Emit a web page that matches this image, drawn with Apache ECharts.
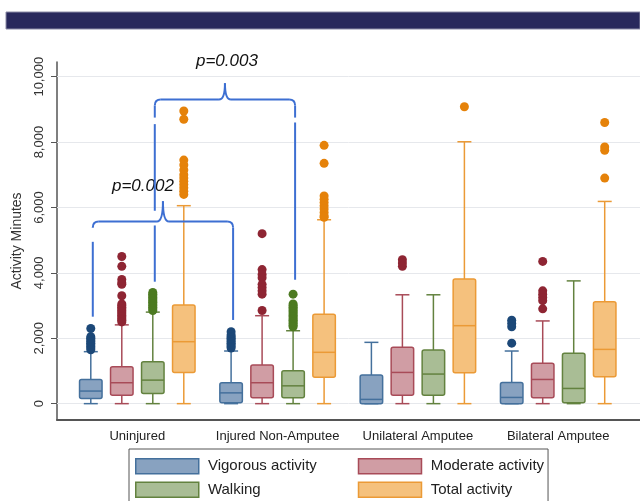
<!doctype html>
<html>
    <head>
        <meta charset="utf-8">
        <title>Activity minutes by injury group</title>
        <style>
            html, body { margin: 0; padding: 0; background: #fff; }
            #main { width: 640px; height: 501px; }
        </style>
    </head>
    <body>
        <div id="main"></div>
        <script src="https://cdn.jsdelivr.net/npm/echarts@6/dist/echarts.min.js"></script>
        <script>
            var groups = ['Uninjured', 'Injured Non-Amputee', 'Unilateral Amputee', 'Bilateral Amputee'];
            var activities = ['Vigorous activity', 'Moderate activity', 'Walking', 'Total activity'];
            var yTicks = [0, 2000, 4000, 6000, 8000, 10000];

            // [lower whisker, Q1, median, Q3, upper whisker], one row per group
            var vigorousBox = [[0, 160, 385, 740, 1590], [0, 25, 330, 640, 1610], [0, 0, 130, 875, 1875], [0, 0, 190, 650, 1610]];
            var moderateBox = [[0, 260, 640, 1130, 2410], [0, 180, 640, 1180, 2690], [0, 260, 955, 1725, 3330], [0, 180, 740, 1235, 2530]];
            var walkingBox = [[0, 310, 720, 1280, 2800], [0, 180, 545, 1005, 2230], [0, 260, 905, 1640, 3330], [0, 30, 465, 1540, 3755]];
            var totalBox = [[0, 955, 1895, 3020, 6055], [0, 805, 1570, 2735, 5625], [0, 945, 2385, 3810, 8010], [0, 820, 1660, 3120, 6185]];

            // outside values, one list per group
            var vigorousOut = [
                [2300, 2050, 2000, 1950, 1900, 1850, 1800, 1750, 1700, 1650],
                [2200, 2100, 2050, 2000, 1950, 1900, 1850, 1800, 1750, 1700],
                [],
                [2550, 2450, 2350, 1850]
            ];
            var moderateOut = [
                [4500, 4200, 3800, 3700, 3650, 3300, 3050, 3000, 2950, 2900, 2850, 2800, 2750, 2700, 2650, 2600, 2550, 2500],
                [5200, 4100, 3950, 3850, 3650, 3550, 3450, 3350, 2850],
                [4400, 4300, 4200],
                [4350, 3450, 3350, 3250, 3150, 2900]
            ];
            var walkingOut = [
                [3400, 3350, 3300, 3250, 3200, 3150, 3100, 3050, 3000, 2950, 2900, 2850],
                [3350, 3050, 3000, 2950, 2900, 2850, 2800, 2750, 2700, 2650, 2600, 2550, 2500, 2450, 2400, 2350],
                [],
                []
            ];
            var totalOut = [
                [8950, 8700, 7450, 7300, 7150, 7000, 6900, 6800, 6700, 6600, 6500, 6400],
                [7900, 7350, 6350, 6250, 6150, 6050, 5950, 5850, 5750, 5700],
                [9080],
                [8600, 7850, 7750, 6900]
            ];

            var boxes = [vigorousBox, moderateBox, walkingBox, totalBox];
            var outs = [vigorousOut, moderateOut, walkingOut, totalOut];

            // styling
            var dotColor = ['#1c4878', '#8e2533', '#4c7a21', '#e5820a'];
            var fillColor = ['#88a2c0', '#d09da4', '#a9bd95', '#f5c17d'];
            var lineColor = ['#44709c', '#a84b58', '#63823f', '#eb9a36'];
            var boxShift = [-46.5, -15.5, 15.5, 46.5];
            var boxWidth = 22.5;
            var capWidth = 14;
            var font = 'Liberation Sans, Arial, sans-serif';

            var chart = echarts.init(document.getElementById('main'));

            function boxRenderer(k) {
                return function (params, api) {
                    var x = api.coord([api.value(0), 0])[0] + boxShift[k];
                    var yLo = api.coord([0, api.value(1)])[1];
                    var yQ1 = api.coord([0, api.value(2)])[1];
                    var yMed = api.coord([0, api.value(3)])[1];
                    var yQ3 = api.coord([0, api.value(4)])[1];
                    var yHi = api.coord([0, api.value(5)])[1];
                    var hw = boxWidth / 2, cw = capWidth / 2;
                    var ln = { stroke: lineColor[k], lineWidth: 1.5 };
                    return {
                        type: 'group',
                        children: [
                            { type: 'line', shape: { x1: x, y1: yQ3, x2: x, y2: yHi }, style: ln },
                            { type: 'line', shape: { x1: x, y1: yQ1, x2: x, y2: yLo }, style: ln },
                            { type: 'line', shape: { x1: x - cw, y1: yHi, x2: x + cw, y2: yHi }, style: ln },
                            { type: 'line', shape: { x1: x - cw, y1: yLo, x2: x + cw, y2: yLo }, style: ln },
                            { type: 'rect', shape: { x: x - hw, y: yQ3, width: boxWidth, height: Math.max(yQ1 - yQ3, 1), r: 2 },
                              style: { fill: fillColor[k], stroke: lineColor[k], lineWidth: 1.5 } },
                            { type: 'line', shape: { x1: x - hw, y1: yMed, x2: x + hw, y2: yMed }, style: ln }
                        ]
                    };
                };
            }

            var series = [];
            activities.forEach(function (name, k) {
                series.push({
                    name: name,
                    type: 'custom',
                    renderItem: boxRenderer(k),
                    encode: { x: 0, y: [1, 2, 3, 4, 5] },
                    data: boxes[k].map(function (b, g) { return [g].concat(b); }),
                    z: 3
                });
            });
            activities.forEach(function (name, k) {
                var pts = [];
                outs[k].forEach(function (list, g) {
                    list.forEach(function (v) { pts.push([g, v]); });
                });
                series.push({
                    name: name,
                    type: 'scatter',
                    data: pts,
                    symbolSize: 9,
                    symbolOffset: [boxShift[k], 0],
                    itemStyle: { color: dotColor[k], opacity: 1 },
                    z: 4
                });
            });
            // light horizontal grid lines
            series[4].markLine = {
                silent: true,
                symbol: 'none',
                z: 1,
                label: { show: false },
                lineStyle: { color: '#e6e8ec', width: 1, type: 'solid' },
                data: yTicks.map(function (v) { return { yAxis: v }; })
            };

            chart.setOption({
                animation: false,
                backgroundColor: '#fff',
                grid: { left: 57, right: 0, top: 62, bottom: 81 },
                xAxis: {
                    type: 'value',
                    min: -0.5723,
                    max: 3.583,
                    axisLine: { show: true, onZero: false, lineStyle: { color: '#555', width: 2 } },
                    axisTick: { show: false },
                    splitLine: { show: false },
                    axisLabel: {
                        customValues: [0, 1, 2, 3],
                        formatter: function (v) { return groups[v] || ''; },
                        margin: 10,
                        fontSize: 13,
                        color: '#222',
                        fontFamily: font
                    }
                },
                yAxis: {
                    type: 'value',
                    min: -500,
                    max: 10450,
                    name: 'Activity Minutes',
                    nameLocation: 'middle',
                    nameGap: 33,
                    nameTextStyle: { fontSize: 14, color: '#333', fontFamily: font },
                    axisLine: { show: true, onZero: false, lineStyle: { color: '#555', width: 1.5 } },
                    axisTick: { show: true, customValues: yTicks, length: 6, lineStyle: { color: '#555' } },
                    splitLine: { show: false },
                    axisLabel: {
                        customValues: yTicks,
                        rotate: 90,
                        margin: 11,
                        fontSize: 13,
                        color: '#333',
                        fontFamily: font,
                        formatter: function (v) { return v.toLocaleString('en-US'); }
                    }
                },
                legend: {
                    left: 129,
                    top: 449,
                    width: 420,
                    padding: [9, 4, 30, 6],
                    itemWidth: 63,
                    itemHeight: 15,
                    itemGap: 7,
                    borderColor: '#555',
                    borderWidth: 1,
                    formatter: function (n) { return ' ' + n; },
                    textStyle: { fontSize: 15, color: '#222', lineHeight: 15, width: 147, fontFamily: font },
                    data: activities.map(function (n, k) {
                        return {
                            name: n,
                            icon: 'rect',
                            itemStyle: { color: fillColor[k], borderColor: lineColor[k], borderWidth: 1.5 },
                            textStyle: { width: k % 2 ? 116 : 147 }
                        };
                    })
                },
                series: series
            });

            // significance braces, anchored to the boxes they compare
            var braces = [
                { from: [0, 0], to: [1, 0], y: 5570, tip: 6190, legs: [2660, 2560], gaps: [[[5400, 4950]], []], text: 'p=0.002', textAt: [-20, 15] },
                { from: [0, 2], to: [1, 2], y: 9300, tip: 9800, legs: [3730, 3790], gaps: [[[8750, 8550], [5900, 5450]], [[8750, 8600]]], text: 'p=0.003', textAt: [2, 22] }
            ];

            function px(g, v) { return chart.convertToPixel({ gridIndex: 0 }, [g, v]); }

            var braceStyle = { stroke: '#3d6fd2', lineWidth: 2, fill: null };
            var graphics = [{
                type: 'rect',
                shape: { x: 6, y: 12, width: 634, height: 17 },
                style: { fill: '#29295c', stroke: '#8c8ca6', lineWidth: 1 },
                silent: true
            }];
            function seg(x1, y1, x2, y2) {
                graphics.push({ type: 'line', shape: { x1: x1, y1: y1, x2: x2, y2: y2 }, style: braceStyle, silent: true, z: 10 });
            }
            function curve(x1, y1, cx, cy, x2, y2) {
                graphics.push({ type: 'bezierCurve', shape: { x1: x1, y1: y1, cpx1: cx, cpy1: cy, x2: x2, y2: y2 }, style: braceStyle, silent: true, z: 10 });
            }
            braces.forEach(function (b) {
                var xl = px(b.from[0], 0)[0] + boxShift[b.from[1]] + 2;
                var xr = px(b.to[0], 0)[0] + boxShift[b.to[1]] + 2;
                var xc = (xl + xr) / 2;
                var y = px(0, b.y)[1];
                var yt = px(0, b.tip)[1];
                var r = 6;
                curve(xl, y + r, xl, y, xl + r, y);
                seg(xl + r, y, xc - r, y);
                curve(xc - r, y, xc, y, xc, yt);
                curve(xc, yt, xc, y, xc + r, y);
                seg(xc + r, y, xr - r, y);
                curve(xr - r, y, xr, y, xr, y + r);
                [xl, xr].forEach(function (x, side) {
                    var cur = y + r;
                    b.gaps[side].forEach(function (gp) {
                        seg(x, cur, x, px(0, gp[0])[1]);
                        cur = px(0, gp[1])[1];
                    });
                    seg(x, cur, x, px(0, b.legs[side])[1]);
                });
                graphics.push({
                    type: 'text',
                    x: xc + b.textAt[0],
                    y: yt - b.textAt[1],
                    style: {
                        text: b.text,
                        fontSize: 17,
                        fontStyle: 'italic',
                        fontFamily: font,
                        fill: '#111',
                        align: 'center',
                        verticalAlign: 'middle'
                    },
                    silent: true,
                    z: 10
                });
            });
            chart.setOption({ graphic: graphics });

            window.onresize = chart.resize;
        </script>
    </body>
</html>
